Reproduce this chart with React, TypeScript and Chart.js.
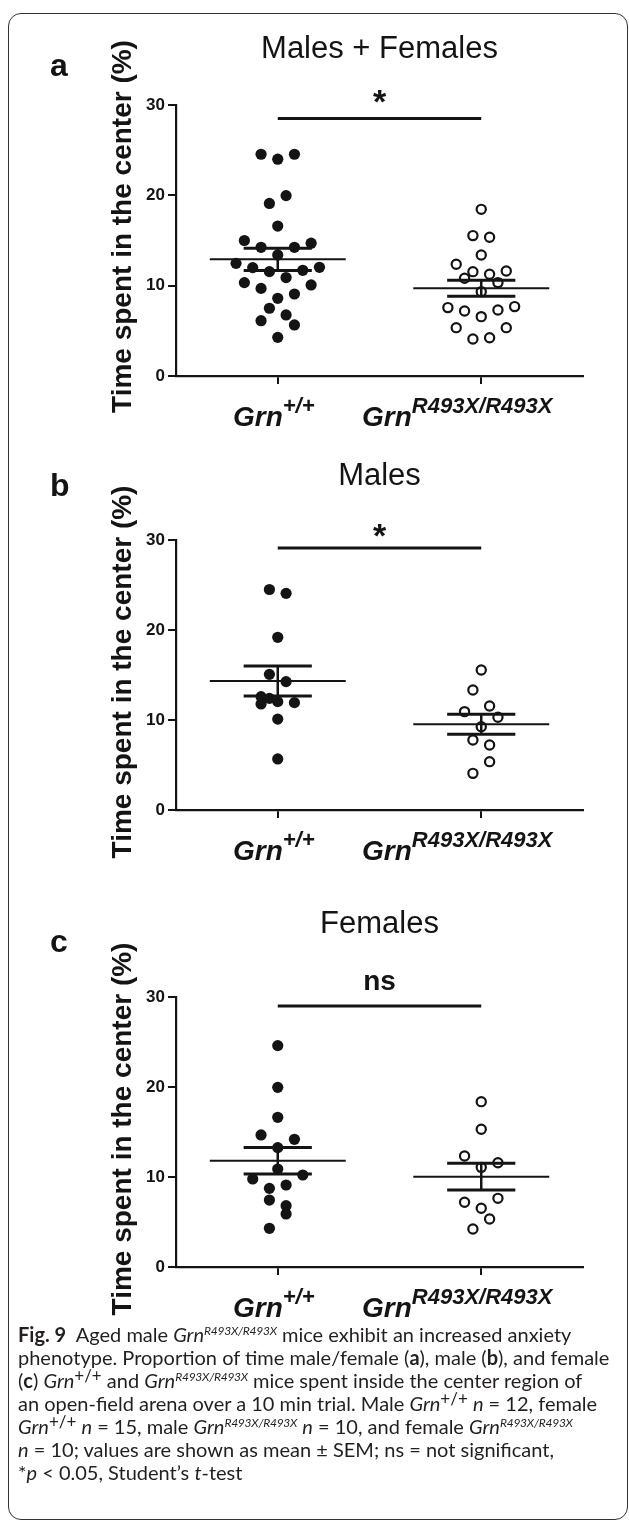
import React, { useEffect, useRef } from "react";
import { Chart, registerables } from "chart.js";

Chart.register(...registerables);

const FONT = "'Liberation Sans', Arial, Helvetica, sans-serif";
const INK = "#141414";

// ---------- shared axis data ----------
const categoryNames = ["Grn", "Grn"];
const categorySuperscripts = ["+/+", "R493X/R493X"];
const categoryCenters = [1, 3];
const yTickValues = [0, 10, 20, 30];
const yAxisTitle = "Time spent in the center (%)";
const JITTER_STEP = 0.082;
const MEAN_HALF = 0.668;
const SEM_HALF = 0.335;

// ---------- panel a : Males + Females ----------
const aWildValues = [24.55, 24.0, 24.55, 19.97, 19.1, 16.6, 15.0, 14.7, 14.25, 14.25, 13.4, 12.47, 12.0, 12.03, 11.55, 11.7, 10.9, 10.34, 10.08, 9.7, 9.08, 8.6, 7.5, 6.76, 6.12, 5.65, 4.28];
const aWildJitter = [-2, 0, 2, 1, -1, 0, -4, 4, -2, 2, 0, -5, -3, 5, -1, 3, 1, -4, 4, -2, 2, 0, -1, 1, -2, 2, 0];
const aMutValues = [18.45, 15.54, 15.36, 13.4, 12.37, 11.55, 11.26, 11.63, 10.82, 10.34, 9.34, 7.57, 7.2, 7.3, 7.68, 6.57, 5.35, 5.35, 4.1, 4.24];
const aMutJitter = [0, -1, 1, 0, -3, -1, 1, 3, -2, 2, 0, -4, -2, 2, 4, 0, -3, 3, -1, 1];
const aMeans = [12.92, 9.71];
const aSems = [1.23, 0.885];
const aSigLevel = 28.5;
const aSigText = "*";

// ---------- panel b : Males ----------
const bWildValues = [24.5, 24.07, 19.19, 15.07, 14.26, 12.6, 12.4, 12.04, 11.93, 11.78, 10.1, 5.67];
const bWildJitter = [-1, 1, 0, -1, 1, -2, -1, 0, 2, -2, 0, 0];
const bMutValues = [15.56, 13.33, 11.56, 10.93, 10.3, 9.26, 7.78, 7.22, 5.37, 4.07];
const bMutJitter = [0, -1, 1, -2, 2, 0, -1, 1, 1, -1];
const bMeans = [14.33, 9.52];
const bSems = [1.66, 1.11];
const bSigLevel = 29.1;
const bSigText = "*";

// ---------- panel c : Females ----------
const cWildValues = [24.6, 19.96, 16.63, 14.67, 14.19, 13.26, 10.89, 9.78, 10.22, 8.74, 9.11, 7.44, 6.81, 5.89, 4.3];
const cWildJitter = [0, 0, 0, -2, 2, 0, 0, -3, 3, -1, 1, -1, 1, 1, -1];
const cMutValues = [18.37, 15.3, 12.33, 11.59, 11.07, 7.19, 7.63, 6.52, 5.33, 4.22];
const cMutJitter = [0, 0, -2, 2, 0, -2, 2, 0, 1, -1];
const cMeans = [11.81, 10.04];
const cSems = [1.465, 1.48];
const cSigLevel = 29;
const cSigText = "ns";

type PanelCfg = {
  letter: string;
  title: string;
  top: number;
  height: number;
  plotTop: number;
  plotBottom: number;
  titleY: number;
  letterY: number;
  yTitleDy: number;
  sigTextRise: number;
  sigFont: string;
  wild: number[];
  wildJitter: number[];
  mut: number[];
  mutJitter: number[];
  means: number[];
  sems: number[];
  sigLevel: number;
  sigText: string;
};

const panels: PanelCfg[] = [
  {
    letter: "a", title: "Males + Females", top: 0, height: 440, plotTop: 105, plotBottom: 376,
    titleY: 58, letterY: 76, yTitleDy: -14, sigTextRise: 22, sigFont: `bold 34px ${FONT}`,
    wild: aWildValues, wildJitter: aWildJitter, mut: aMutValues, mutJitter: aMutJitter,
    means: aMeans, sems: aSems, sigLevel: aSigLevel, sigText: aSigText,
  },
  {
    letter: "b", title: "Males", top: 440, height: 440, plotTop: 100, plotBottom: 370,
    titleY: 45, letterY: 56, yTitleDy: -3, sigTextRise: 18, sigFont: `bold 34px ${FONT}`,
    wild: bWildValues, wildJitter: bWildJitter, mut: bMutValues, mutJitter: bMutJitter,
    means: bMeans, sems: bSems, sigLevel: bSigLevel, sigText: bSigText,
  },
  {
    letter: "c", title: "Females", top: 880, height: 450, plotTop: 117, plotBottom: 387,
    titleY: 53, letterY: 72, yTitleDy: -3, sigTextRise: 24, sigFont: `bold 28px ${FONT}`,
    wild: cWildValues, wildJitter: cWildJitter, mut: cMutValues, mutJitter: cMutJitter,
    means: cMeans, sems: cSems, sigLevel: cSigLevel, sigText: cSigText,
  },
];

const labelDx = [-4, -24];

function segment(x1: number, x2: number, y1: number, y2: number, width: number) {
  return {
    type: "line" as const,
    data: [{ x: x1, y: y1 }, { x: x2, y: y2 }],
    showLine: true,
    borderColor: INK,
    borderWidth: width,
    pointRadius: 0,
    borderCapStyle: "butt" as const,
    order: -1,
  };
}

function buildDatasets(cfg: PanelCfg) {
  const ds: any[] = [];
  categoryCenters.forEach((c, i) => {
    const m = cfg.means[i];
    const s = cfg.sems[i];
    ds.push(segment(c - MEAN_HALF, c + MEAN_HALF, m, m, 2));
    ds.push(segment(c - SEM_HALF, c + SEM_HALF, m + s, m + s, 3));
    ds.push(segment(c - SEM_HALF, c + SEM_HALF, m - s, m - s, 3));
    ds.push(segment(c, c, m - s, m + s, 2.5));
  });
  ds.push({
    type: "scatter",
    data: cfg.wild.map((v, i) => ({ x: categoryCenters[0] + cfg.wildJitter[i] * JITTER_STEP, y: v })),
    backgroundColor: INK,
    borderColor: INK,
    borderWidth: 0,
    pointRadius: 5.6,
    order: 1,
  });
  ds.push({
    type: "scatter",
    data: cfg.mut.map((v, i) => ({ x: categoryCenters[1] + cfg.mutJitter[i] * JITTER_STEP, y: v })),
    backgroundColor: "#ffffff",
    borderColor: INK,
    borderWidth: 2.2,
    pointRadius: 4.6,
    order: 1,
  });
  return ds;
}

function makeOverlay(cfg: PanelCfg) {
  return {
    id: "overlay",
    afterDraw(chart: any) {
      const { ctx, chartArea, scales } = chart;
      const xs = scales.x;
      const ys = scales.y;
      ctx.save();
      ctx.fillStyle = INK;
      ctx.strokeStyle = INK;
      ctx.textBaseline = "alphabetic";

      // panel title
      ctx.font = `31px ${FONT}`;
      ctx.textAlign = "center";
      ctx.fillText(cfg.title, (chartArea.left + chartArea.right) / 2, cfg.titleY);

      // panel letter
      ctx.font = `bold 32px ${FONT}`;
      ctx.textAlign = "left";
      ctx.fillText(cfg.letter, 50, cfg.letterY);

      // y axis title
      ctx.save();
      ctx.translate(131, (chartArea.top + chartArea.bottom) / 2 + cfg.yTitleDy);
      ctx.rotate(-Math.PI / 2);
      ctx.font = `bold 28px ${FONT}`;
      ctx.textAlign = "center";
      ctx.fillText(yAxisTitle, 0, 0);
      ctx.restore();

      // significance bar
      const x1 = xs.getPixelForValue(categoryCenters[0]);
      const x2 = xs.getPixelForValue(categoryCenters[1]);
      const yb = ys.getPixelForValue(cfg.sigLevel);
      ctx.lineWidth = 3;
      ctx.beginPath();
      ctx.moveTo(x1, yb);
      ctx.lineTo(x2, yb);
      ctx.stroke();
      ctx.font = cfg.sigFont;
      ctx.textAlign = "center";
      const m = ctx.measureText(cfg.sigText);
      const centerOff = (m.actualBoundingBoxAscent - m.actualBoundingBoxDescent) / 2;
      ctx.fillText(cfg.sigText, (x1 + x2) / 2, yb - cfg.sigTextRise + centerOff);

      // category labels with superscripts
      const baseY = chartArea.bottom + 50;
      categoryNames.forEach((name, i) => {
        const mainFont = `italic bold 28px ${FONT}`;
        const supFont = `italic bold 22px ${FONT}`;
        ctx.font = mainFont;
        const w1 = ctx.measureText(name).width;
        ctx.font = supFont;
        const w2 = ctx.measureText(categorySuperscripts[i]).width;
        const cx = xs.getPixelForValue(categoryCenters[i]) + labelDx[i];
        const left = cx - (w1 + w2) / 2;
        ctx.textAlign = "left";
        ctx.font = mainFont;
        ctx.fillText(name, left, baseY);
        ctx.font = supFont;
        ctx.fillText(categorySuperscripts[i], left + w1, baseY - 13);
      });
      ctx.restore();
    },
  };
}

function Panel({ cfg }: { cfg: PanelCfg }) {
  const ref = useRef<HTMLCanvasElement>(null);
  useEffect(() => {
    const canvas = ref.current;
    if (!canvas) return;
    const xAxisH = 30;
    const chart = new Chart(canvas, {
      type: "scatter",
      data: { datasets: buildDatasets(cfg) },
      options: {
        responsive: false,
        animation: false,
        devicePixelRatio: 1,
        layout: {
          padding: { left: 0, right: 46, top: cfg.plotTop, bottom: cfg.height - cfg.plotBottom - xAxisH },
        },
        plugins: { legend: { display: false }, tooltip: { enabled: false }, title: { display: false } },
        scales: {
          x: {
            type: "linear",
            min: 0,
            max: 4,
            afterBuildTicks: (s: any) => {
              s.ticks = categoryCenters.map((v) => ({ value: v }));
            },
            afterFit: (s: any) => {
              s.height = xAxisH;
            },
            ticks: { display: false },
            grid: { drawOnChartArea: false, drawTicks: true, tickLength: 8, color: INK, lineWidth: 2 },
            border: { display: true, color: INK, width: 2.2 },
          },
          y: {
            type: "linear",
            min: 0,
            max: 30,
            afterBuildTicks: (s: any) => {
              s.ticks = yTickValues.map((v) => ({ value: v }));
            },
            afterFit: (s: any) => {
              s.width = 176;
            },
            ticks: { font: { family: FONT, size: 17, weight: "bold" }, color: INK, padding: 3 },
            grid: { drawOnChartArea: false, drawTicks: true, tickLength: 8, color: INK, lineWidth: 2 },
            border: { display: true, color: INK, width: 2.2 },
          },
        },
      } as any,
      plugins: [makeOverlay(cfg)],
    });
    return () => chart.destroy();
  }, [cfg]);
  return (
    <canvas
      ref={ref}
      width={629}
      height={cfg.height}
      style={{ position: "absolute", left: 0, top: cfg.top, width: 629, height: cfg.height, display: "block" }}
    />
  );
}

const Sup = ({ children }: { children: React.ReactNode }) => (
  <span style={{ fontSize: "0.6em", position: "relative", top: "-0.6em", lineHeight: 0, letterSpacing: "-0.02em" }}>{children}</span>
);
const SupP = ({ children }: { children: React.ReactNode }) => (
  <span style={{ fontSize: "0.85em", position: "relative", top: "-0.35em", lineHeight: 0 }}>{children}</span>
);

export default function App() {
  const lineStyle: React.CSSProperties = { height: 23, whiteSpace: "nowrap" };
  return (
    <div style={{ position: "absolute", left: 0, top: 0, width: 629, height: 1522, overflow: "hidden", background: "#fff" }}>
      <div
        style={{
          position: "absolute",
          left: 8,
          top: 13,
          width: 620,
          height: 1507,
          border: "1.4px solid #333",
          borderRadius: 13,
          boxSizing: "border-box",
        }}
      />
      {panels.map((p) => (
        <Panel key={p.letter} cfg={p} />
      ))}
      <div
        style={{
          position: "absolute",
          left: 18,
          top: 1323,
          fontFamily: "Lato, 'Open Sans', sans-serif",
          fontSize: 20,
          lineHeight: "23px",
          color: "#231f20",
        }}
      >
        <div style={lineStyle}>
          <b>Fig. 9</b>&nbsp; Aged male <i>Grn</i><Sup><i>R493X/R493X</i></Sup> mice exhibit an increased anxiety
        </div>
        <div style={lineStyle}>
          phenotype. Proportion of time male/female (<b>a</b>), male (<b>b</b>), and female
        </div>
        <div style={lineStyle}>
          (<b>c</b>) <i>Grn</i><SupP>+/+</SupP> and <i>Grn</i><Sup><i>R493X/R493X</i></Sup> mice spent inside the center region of
        </div>
        <div style={lineStyle}>
          an open-field arena over a 10 min trial. Male <i>Grn</i><SupP>+/+</SupP> <i>n</i> = 12, female
        </div>
        <div style={lineStyle}>
          <i>Grn</i><SupP>+/+</SupP> <i>n</i> = 15, male <i>Grn</i><Sup><i>R493X/R493X</i></Sup> <i>n</i> = 10, and female <i>Grn</i><Sup><i>R493X/R493X</i></Sup>
        </div>
        <div style={lineStyle}>
          <i>n</i> = 10; values are shown as mean ± SEM; ns = not significant,
        </div>
        <div style={lineStyle}>
          *<i>p</i> &lt; 0.05, Student’s <i>t</i>-test
        </div>
      </div>
    </div>
  );
}
